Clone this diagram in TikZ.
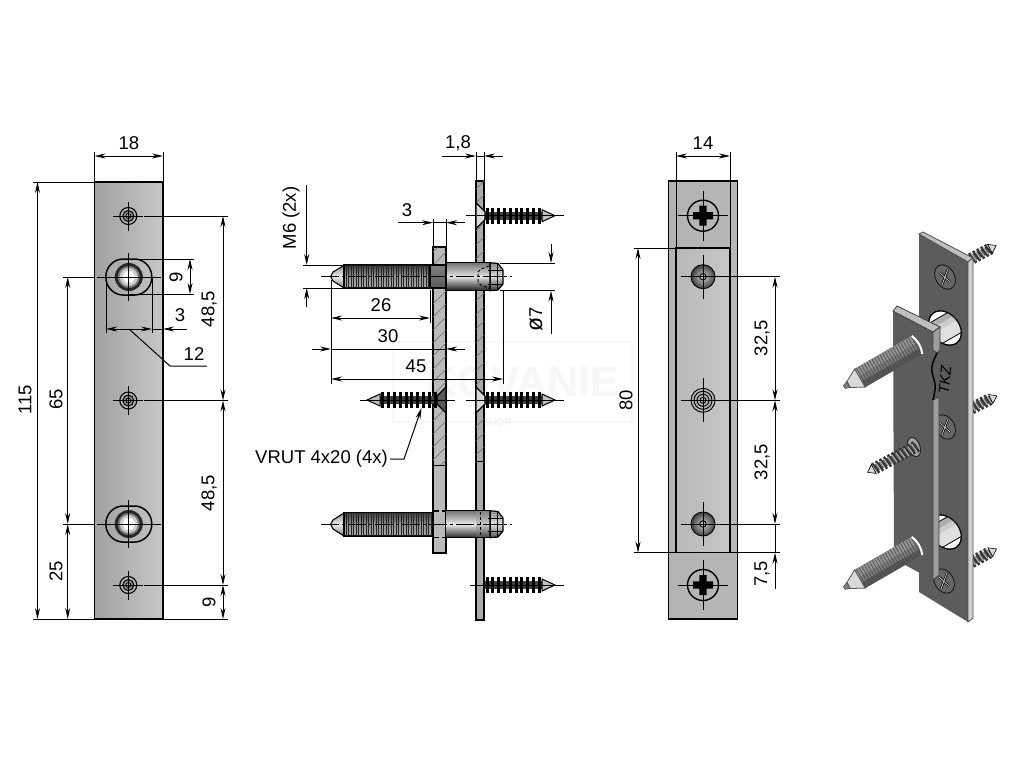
\documentclass[tikz,border=0pt]{standalone}
\usepackage{fontspec}
\setmainfont{Liberation Sans}
\usetikzlibrary{arrows.meta}
\tikzset{
  ln/.style={line width=1pt,black},
  ou/.style={draw,line width=1.5pt,black},
  dimb/.style={ln,{Stealth[length=11pt,width=5pt]}-{Stealth[length=11pt,width=5pt]}},
  dimr/.style={ln,-{Stealth[length=11pt,width=5pt]}},
  lab/.style={font=\fontsize{18.5}{20}\selectfont,inner sep=0pt},
  vlab/.style={lab,rotate=90},
  cl/.style={line width=0.8pt,black},
  hatchl/.style={line width=0.45pt,gray!85!black},
  plateA/.style={ou,left color=black!37,middle color=black!22,right color=black!22},
  plateB/.style={ou,left color=black!30,middle color=black!22,right color=black!28},
}
% center cross
\newcommand\CrossM[4]{\draw[cl] (#1-#3,#2) -- (#1+#3,#2) (#1,#2-#4) -- (#1,#2+#4);}
% small concentric hole
\newcommand\RingHole[2]{%
  \draw[line width=1.1pt,fill=black!30] (#1,#2) circle[radius=8.5pt];
  \draw[line width=1.0pt,fill=black!45] (#1,#2) circle[radius=5.5pt];
  \draw[line width=0.8pt,fill=black!30] (#1,#2) circle[radius=2.5pt];
  \CrossM{#1}{#2}{15}{14.5}}
% oval with bolt end
\newcommand\OvalHole[2]{%
  \draw[ou] (#1-23,#2) .. controls (#1-23,#2-11) and (#1-14,#2-18) .. (#1-6,#2-18)
     -- (#1+6,#2-18) .. controls (#1+14,#2-18) and (#1+23,#2-11) .. (#1+23,#2)
     .. controls (#1+23,#2+11) and (#1+14,#2+18) .. (#1+6,#2+18)
     -- (#1-6,#2+18) .. controls (#1-14,#2+18) and (#1-23,#2+11) .. (#1-23,#2) -- cycle;
  \fill[black!85] (#1,#2) circle[radius=14pt];
  \fill[black!50] (#1,#2) circle[radius=11pt];
  \fill[black!20] (#1,#2) circle[radius=9pt];
  \fill[white] (#1-6.5,#2) -- (#1-3.3,#2-5.7) -- (#1+3.3,#2-5.7) -- (#1+6.5,#2) -- (#1+3.3,#2+5.7) -- (#1-3.3,#2+5.7) -- cycle;
  \CrossM{#1}{#2}{32}{24}}
% wood screw, side view, local coordinates starting at the plate face
\newcommand\ScrewBody{%
  \fill[black!75] (9,-4) rectangle (66,4);
  \foreach \r in {11,16.8,...,64}{\draw[black,line width=3pt] (\r,-8) -- (\r,8);}
  \draw[black,line width=1pt,fill=black!25] (66,-6) -- (79,0) -- (66,6) -- cycle;
}
\newcommand\ScrewHead[1]{%
  \draw[line width=1.2pt,fill=#1] (0,-13) -- (0,13) -- (9,4) -- (9,-4) -- cycle;
}
% 3d wood screw
\newcommand\IsoScrew[4]{%
  \begin{scope}[shift={(#1,#2)},rotate=#3]
    \fill[black!60] (0,-3.5) rectangle (#4-6,3.5);
    \foreach \r in {2,6.5,...,#4}{
      \ifdim\r pt<\dimexpr #4pt-7pt\relax
      \draw[black!80,line width=2.6pt] (\r-1,-6) -- (\r+1,6);
      \draw[black!25,line width=0.9pt] (\r+0.6,-5) -- (\r+1.8,4);
      \fi}
    \draw[black,line width=0.6pt,fill=black!15] (#4-7,-5) -- (#4,0) -- (#4-7,5) -- cycle;
  \end{scope}}
% 3d threaded bolt
\newcommand\IsoBolt[3]{%
  \begin{scope}[shift={(#1,#2)},rotate=#3]
    \fill[black!52] (0,-10.5) rectangle (66,10.5);
    \fill[black!42] (0,2) rectangle (66,10.5);
    \fill[black!66] (0,-10.5) rectangle (66,-4);
    \foreach \r in {1,4,...,65}{\draw[black!72,line width=0.6pt] (\r,-10.5) -- (\r,10.5);}
    \draw[black!65,line width=0.8pt,fill=black!15] (66,-10.5) -- (79,-3.5) -- (79,3.5) -- (66,10.5) -- cycle;
    \draw[black!70,line width=0.6pt,fill=black!50] (79,-3.5) -- (84,-1.5) -- (84,1.5) -- (79,3.5) -- cycle;
    \draw[white,line width=2pt] (0,-10.5) .. controls (-3,-4) and (-3,4) .. (0,10.5);
  \end{scope}}
\newcommand\IsoPhil[2]{%
  \draw[line width=0.9pt,black!90,fill=black!60] (#1,#2) ellipse[x radius=9.5pt,y radius=13pt,rotate=30];
  \draw[black,line width=2.2pt] (#1-5,#2-4) -- (#1+5,#2+5) (#1+3,#2-8) -- (#1-3,#2+8);
  \draw[black!15,line width=0.7pt] (#1-5,#2-4) -- (#1+5,#2+5) (#1+3,#2-8) -- (#1-3,#2+8);
}
\newcommand\IsoHole[2]{%
  \draw[line width=1pt,fill=white] (#1,#2) ellipse[x radius=19pt,y radius=14pt,rotate=-50];
  \begin{scope}
    \clip (#1,#2) ellipse[x radius=19pt,y radius=14pt,rotate=-50];
    \begin{scope}[shift={(#1,#2)},rotate=30]
      \fill[black!12] (-30,-12) rectangle (30,12);
      \fill[black!32] (-30,-12) rectangle (30,-6);
      \fill[black!20] (-30,-6) rectangle (30,-1);
      \draw[line width=0.8pt] (-30,12) -- (30,12) (-30,-12) -- (30,-12);
    \end{scope}
  \end{scope}
  \draw[line width=1pt] (#1,#2) ellipse[x radius=19pt,y radius=14pt,rotate=-50];
}
\begin{document}
\begin{tikzpicture}[x=1pt,y=-1pt]
\useasboundingbox (0,0) rectangle (1024,768);
\fill[white] (0,0) rectangle (1024,768);

% faint watermark
\draw[black!3,line width=2pt] (393,342) rectangle (632,422);
\node[font=\fontsize{43}{45}\selectfont\bfseries,text=black!3,inner sep=0pt] (wm) at (523,382) {KOVANIE};
\node[font=\fontsize{10}{12}\selectfont\bfseries,text=black!5,inner sep=0pt] (wms) at (497,422) {SHOP};

%%%%%%%%%%%%%%%% VIEW 1 %%%%%%%%%%%%%%%%
\path[plateA] (94.5,182) rectangle (163,619);
\RingHole{128.3}{216}
\RingHole{128.3}{400.5}
\RingHole{128.3}{585}
\OvalHole{128.8}{277}
\OvalHole{128.8}{524}

% extension lines
\draw[ln] (94.5,152) -- (94.5,182) (163,152) -- (163,182);
\draw[ln] (33,182) -- (94.5,182) (33,619) -- (94.5,619);
\draw[ln] (63,277) -- (95,277) (63,524) -- (95,524) (63,619) -- (95,619);
\draw[ln] (144,216) -- (228,216) (144,400.5) -- (228,400.5) (144,585) -- (228,585) (163,619) -- (228,619);
\draw[ln] (130,259) -- (194,259) (130,294) -- (194,294);
\draw[ln] (106,277) -- (106,333) (152,277) -- (152,333);
% dimensions
\draw[dimb] (94.5,156) -- (163,156);
\node[lab] (t18) at (129,143.5) {18};
\draw[dimb] (37.5,182) -- (37.5,619);
\node[vlab] (t115) at (25,400) {115};
\draw[dimb] (67.7,277) -- (67.7,524);
\node[vlab] (t65) at (56,399) {65};
\draw[dimb] (67.7,524) -- (67.7,619);
\node[vlab] (t25) at (56,571) {25};
\draw[dimb] (223,216) -- (223,400.5);
\node[vlab] (t485a) at (209,309) {48,5};
\draw[dimb] (223,400.5) -- (223,585);
\node[vlab] (t485b) at (209,493) {48,5};
\draw[dimb] (223,585) -- (223,619);
\node[vlab] (t9b) at (209,602) {9};
\draw[dimb] (190,259) -- (190,294);
\node[vlab] (t9a) at (176,277) {9};
\draw[dimb] (106,329) -- (152,329);
\draw[dimr] (187,329) -- (163,329);
\draw[ln] (152,329) -- (163,329);
\node[lab] (t3a) at (180,315) {3};
\draw[ln] (129,329) -- (170,366) -- (207,366);
\node[lab] (t12) at (194,354) {12};

%%%%%%%%%%%%%%%% VIEW 2 %%%%%%%%%%%%%%%%
\path[ou,fill=black!27] (433,247) rectangle (446,553);
\path[ou,fill=black!33] (476,181) rectangle (484,620);
\begin{scope}
  \clip (433,290) rectangle (446,465) (433,247) rectangle (446,265);
  \foreach \k in {0,13,...,260}{\draw[hatchl] (425,247+\k) -- (455,217+\k);}
\end{scope}
\begin{scope}
  \clip (476,181) rectangle (484,260) (476,293) rectangle (484,461);
  \foreach \k in {0,14,...,310}{\draw[hatchl] (470,181+\k) -- (490,161+\k);}
\end{scope}
\draw[line width=1pt] (433,465) -- (446,465) (476,461) -- (484,461);

% top bolt
\path[line width=1.2pt,draw,top color=black!75,bottom color=black!35,middle color=black!42] (344,265) rectangle (430,288);
\foreach \r in {346,348.5,...,430}{\draw[black!85,line width=0.5pt] (\r,265) -- (\r,288);}
\path[line width=1.1pt,draw,top color=black!40,bottom color=black!50,middle color=black!8] (344,265.5) -- (333,272) -- (330.7,276.5) -- (333,281) -- (344,288) -- cycle;
\draw[line width=1.8pt] (344,265) -- (344,288);
\path[line width=1.4pt,draw,top color=black!50,middle color=black!25,bottom color=black!65] (430,265) rectangle (446,288);
\path[top color=black!55,bottom color=black!90,middle color=black!10] (446,262.7) rectangle (490,290.7);
\draw[line width=1.3pt] (446,262.7) -- (490,262.7) (446,290.7) -- (490,290.7) (446,262.7) -- (446,290.7);
\path[line width=1.2pt,draw,top color=black!45,bottom color=black!80,middle color=black!15] (490,262.7) -- (498,263.5) -- (503,270) -- (503,284) -- (498,290) -- (490,290.7) -- cycle;
\draw[line width=1pt] (488,270) -- (503,270) (488,276.7) -- (503,276.7) (488,284) -- (503,284) (490,263) -- (490,290.7) (497,264) -- (497,290);
\draw[line width=1pt,dash pattern=on 3pt off 2pt] (489,266) -- (481,269) -- (478,272) -- (478,282) -- (481,285) -- (489,288);
\draw[cl,dash pattern=on 18pt off 3pt on 3pt off 3pt] (321,276.7) -- (512,276.7);

% lower bolt
\path[line width=1.2pt,draw,top color=black!75,bottom color=black!35,middle color=black!42] (344,512.7) rectangle (432,536);
\foreach \r in {346,348.5,...,432}{\draw[black!85,line width=0.5pt] (\r,512.7) -- (\r,536);}
\path[line width=1.1pt,draw,top color=black!40,bottom color=black!50,middle color=black!8] (344,513) -- (333,520) -- (330.7,524) -- (333,529) -- (344,536) -- cycle;
\draw[line width=1.8pt] (344,512.7) -- (344,536);
\draw[line width=1.2pt,dash pattern=on 6pt off 3pt] (433,511) -- (446,511) (433,537.5) -- (446,537.5);
\path[top color=black!55,bottom color=black!85,middle color=black!8] (446,510.7) rectangle (476,537.7);
\path[top color=black!50,bottom color=black!75,middle color=black!22] (476,510.7) rectangle (490,537.7);
\draw[line width=1.3pt] (446,510.7) -- (490,510.7) (446,537.7) -- (490,537.7);
\path[line width=1.2pt,draw,top color=black!45,bottom color=black!70,middle color=black!12] (490,510.7) -- (498,511.5) -- (503,518) -- (503,531) -- (498,537) -- (490,537.7) -- cycle;
\draw[line width=1pt] (488,518) -- (503,518) (488,524.3) -- (503,524.3) (488,531) -- (503,531) (490,511) -- (490,537.7) (497,512) -- (497,537);
\draw[line width=1pt,dash pattern=on 3pt off 2pt] (480,512) -- (480,536);
\draw[cl,dash pattern=on 18pt off 3pt on 3pt off 3pt] (321,524.3) -- (512,524.3);

% wood screws
\begin{scope}[shift={(476,215.7)}]\ScrewBody\ScrewHead{black!15}\end{scope}
\begin{scope}[shift={(476,400)}]\ScrewBody\ScrewHead{black!15}\end{scope}
\begin{scope}[shift={(476,585)}]\ScrewBody\end{scope}
\begin{scope}[shift={(446,400)},xscale=-1]\ScrewBody\ScrewHead{black!65}\end{scope}
\draw[cl] (466,215.7) -- (564,215.7);
\draw[cl] (466,400) -- (564,400);
\draw[cl] (470,585) -- (564,585);
\draw[cl] (360,400) -- (455,400);

% dimensions
\draw[ln] (476,152) -- (476,181) (484,152) -- (484,181);
\draw[dimr] (442,156) -- (476,156);
\draw[dimr] (503,156) -- (484,156);
\draw[ln] (476,156) -- (484,156);
\node[lab] (t18b) at (458,143) {1,8};
\draw[ln] (433,219) -- (433,247) (446,219) -- (446,247);
\draw[dimr] (398,222.7) -- (433,222.7);
\draw[dimr] (465,222.7) -- (446,222.7);
\draw[ln] (433,222.7) -- (446,222.7);
\node[lab] (t3b) at (407,210) {3};
\draw[ln] (303,265) -- (344,265) (303,288) -- (344,288);
\draw[dimr] (306.7,185) -- (306.7,265);
\draw[dimr] (306.7,307) -- (306.7,288);
\node[vlab] (m6) at (291,218) {M6 (2x)};
\draw[ln] (331,280) -- (331,384) (430,290) -- (430,323) (503,290) -- (503,384);
\draw[dimb] (331,318) -- (430,318);
\node[lab] (t26) at (381,305) {26};
\draw[dimr] (312,349) -- (331,349);
\draw[ln] (331,349) -- (446,349);
\draw[dimr] (465,349) -- (446,349);
\node[lab] (t30) at (388,336) {30};
\draw[dimb] (331,379) -- (503,379);
\node[lab] (t45) at (416,366) {45};
\draw[ln] (500,263) -- (555,263) (500,290.7) -- (555,290.7);
\draw[dimr] (551,244) -- (551,263);
\draw[dimr] (551,334) -- (551,290.7);
\node[vlab] (t7) at (536,319) {{\fontsize{23}{24}\selectfont ø}7};
\node[lab,anchor=west] (vrut) at (255,459) {VRUT 4x20 (4x)};
\draw[dimr] (vrut.east)++(2,0) -- (404,459) -- (421.5,408);

%%%%%%%%%%%%%%%% VIEW 3 %%%%%%%%%%%%%%%%
\path[plateB] (668.7,181) rectangle (737.3,619);
\path[plateA,left color=black!28,middle color=black!18,right color=black!22] (676,248) rectangle (730,552.7);
\draw[ln] (676,152) -- (676,248) (730,152) -- (730,248);
\foreach \yy in {215.7,585}{
  \draw[line width=1.4pt] (703,\yy) circle[radius=15.5pt];
  \fill[black] (693,\yy-3.7) -- (699.3,\yy-3.7) -- (699.3,\yy-10) -- (706.7,\yy-10) -- (706.7,\yy-3.7) -- (713,\yy-3.7) -- (713,\yy+3.7) -- (706.7,\yy+3.7) -- (706.7,\yy+10) -- (699.3,\yy+10) -- (699.3,\yy+3.7) -- (693,\yy+3.7) -- cycle;
  \CrossM{703}{\yy}{25}{25}}
\foreach \yy in {276.7,524}{
  \shade[inner color=black!20,outer color=black!75] (703,\yy) circle[radius=12pt];
  \draw[line width=0.9pt] (703,\yy) circle[radius=12pt];
  \draw[line width=0.9pt,fill=black!25] (703,\yy) circle[radius=3.2pt];
  \CrossM{703}{\yy}{22}{22}}
\draw[line width=0.9pt,fill=black!30] (703,400.3) circle[radius=12pt];
\draw[line width=0.9pt] (703,400.3) circle[radius=9pt] (703,400.3) circle[radius=6pt] (703,400.3) circle[radius=3pt];
\CrossM{703}{400.3}{22}{22}

\draw[dimb] (676,156) -- (730,156);
\node[lab] (t14) at (703,143.5) {14};
\draw[ln] (634,248) -- (676,248) (634,552.7) -- (780,552.7);
\draw[dimb] (638,248) -- (638,552.7);
\node[vlab] (t80) at (626,400) {80};
\draw[ln] (725,276.7) -- (780,276.7) (725,400.3) -- (780,400.3) (725,524) -- (780,524);
\draw[dimb] (775,276.7) -- (775,400.3);
\node[vlab] (t325a) at (762,338) {32,5};
\draw[dimb] (775,400.3) -- (775,524);
\node[vlab] (t325b) at (762,462) {32,5};
\draw[ln] (775,524) -- (775,552.7);
\draw[dimr] (775,589) -- (775,552.7);
\node[vlab] (t75) at (762,574) {7,5};

%%%%%%%%%%%%%%%% 3D VIEW %%%%%%%%%%%%%%%%
\IsoScrew{967}{261}{28}{33}
\IsoScrew{970}{409}{26}{30}
\IsoScrew{970}{563}{28}{30}
% back plate
\fill[black!64] (919,234) -- (968,262) -- (968,622) -- (919,592) -- cycle;
\draw[black!70,line width=0.8pt,fill=black!25] (919,234) -- (923,232) -- (973,258) -- (968,262) -- cycle;
\draw[black!70,line width=0.8pt,fill=black!18] (968,262) -- (973,258) -- (973,618) -- (968,622) -- cycle;
\IsoPhil{945}{277}
\IsoPhil{945}{427}
\IsoPhil{944}{581}
\IsoHole{945}{328}
\IsoHole{945}{532}
% front plate
\fill[black!64] (893,311) -- (933,332) -- (933,350) -- (937,353) .. controls (933,362) and (931,366) .. (932,372)
   .. controls (933,378) and (936,382) .. (935,390) -- (933,400) -- (933,580) -- (894,559) -- cycle;
\draw[black!75,line width=0.8pt,fill=black!25] (893,311) -- (897,306) -- (940,327) -- (933,332) -- cycle;
\draw[black!75,line width=0.8pt,fill=black!38] (933,332) -- (940,327) -- (940,350) -- (937,353) -- (933,350) -- cycle;
\draw[black!75,line width=0.8pt,fill=black!38] (933,400) -- (939,397) -- (939,575) -- (933,580) -- cycle;
\draw[black,line width=1.5pt] (937,353) .. controls (933,362) and (931,366) .. (932,372)
   .. controls (933,378) and (936,382) .. (935,390) -- (933,400);
\node[font=\fontsize{15}{16}\selectfont\itshape,inner sep=0pt,rotate=85] (tkz) at (945,380) {TKZ};
% left screw
\draw[line width=1pt,black!85,fill=black!35] (914,447) ellipse[x radius=6pt,y radius=10pt,rotate=20];
\IsoScrew{917}{446}{208}{56}
\IsoBolt{917}{345}{210}
\IsoBolt{917}{546}{210}
\end{tikzpicture}
\end{document}
